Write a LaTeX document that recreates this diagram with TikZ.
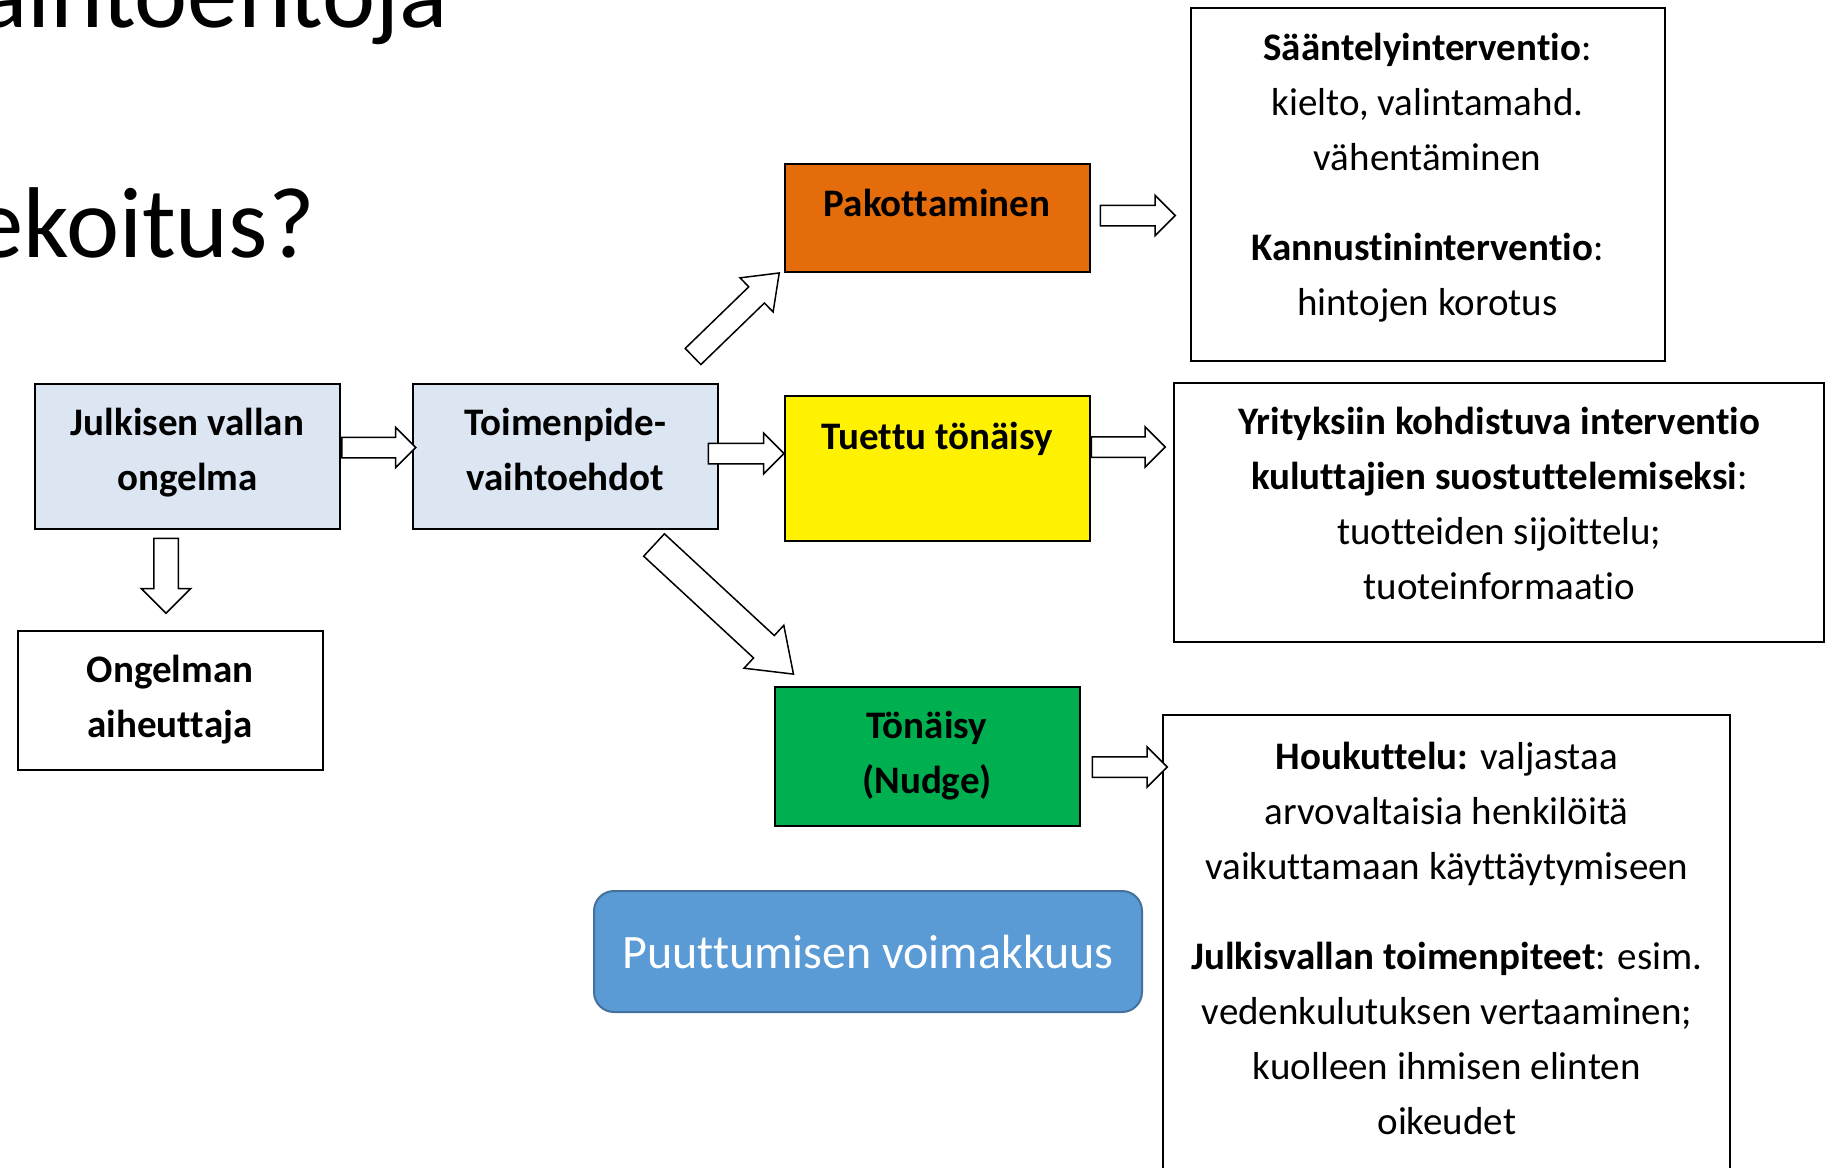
\documentclass[tikz,border=0pt]{standalone}
\usepackage{fontspec}
\setmainfont{Carlito}[Ligatures=NoCommon]
\usetikzlibrary{positioning, calc, shapes.arrows}
\definecolor{paleblue}{HTML}{DCE6F2}
\definecolor{pakorange}{HTML}{E46C0A}
\definecolor{nudgegreen}{HTML}{00B050}
\definecolor{strengthblue}{HTML}{5B9BD5}
\definecolor{strengthedge}{HTML}{41719C}
\newcommand{\boxfont}{\fontsize{19.5pt}{27.5pt}\selectfont}
\newcommand{\titlefont}{\fontsize{50.3pt}{60pt}\selectfont}
\tikzset{
	every node/.style={
		align=center,
	},
	box/.style={draw, line width=1pt, inner sep=0pt, minimum width=152.5pt, font=\boxfont\bfseries},
	infobox/.style={draw, line width=1pt, inner sep=0pt, font=\boxfont},
	fatarrow/.style={single arrow, draw, fill=white, line width=0.75pt, inner xsep=0pt, inner ysep=4.75pt, text height=0pt, text depth=0pt, single arrow head extend=5pt, single arrow tip angle=90},
}

\begin{document}
\begin{tikzpicture}[x=0.5pt, y=-0.5pt]
    \useasboundingbox (0,0) rectangle (1834,1167);
    \clip (0,0) rectangle (1834,1167);
    \fill[white] (0,0) rectangle (1834,1167);

    % slide heading, cut by the page edge
    \node[font=\titlefont, inner sep=0pt, anchor=base east] (heading) at (448.5,27) {aihtoehtoja};
    \node[font=\titlefont, inner sep=0pt, anchor=base east] (question) at (315,257) {ekoitus?};

    \node[box, fill=paleblue, minimum height=72.5pt] (julkisen) at (187.5,456) {Julkisen vallan\\ongelma\\[-20.5pt]\mbox{}};
    \node[box, fill=paleblue, minimum height=72.5pt, right=35.5pt of julkisen] (toimenpide) {Toimenpide-\\vaihtoehdot\\[-21.1pt]\mbox{}};
    \node[box, fill=white, minimum height=69.5pt, below=50pt of julkisen, xshift=-8.75pt] (ongelman) {Ongelman\\aiheuttaja};
    \node[box, fill=yellow, minimum height=72.5pt, text height=14pt, text depth=33pt, right=32.25pt of toimenpide, yshift=-6pt] (tuettu) {Tuettu tönäisy};
    \node[box, fill=pakorange, minimum height=54pt, text height=14pt, text depth=14.7pt, above=61pt of tuettu] (pakottaminen) {Pakottaminen};
    \node[box, fill=nudgegreen, minimum height=69.5pt, below=72pt of tuettu, xshift=-5pt] (tonaisy) {Tönäisy\\(Nudge)};
    \node[draw=strengthedge, fill=strengthblue, rounded corners=10pt, line width=1pt, text=white, font=\fontsize{24pt}{28pt}\selectfont, minimum width=274pt, minimum height=60.5pt, below=31.75pt of tonaisy, xshift=-29.5pt] (strength) {Puuttumisen voimakkuus};

    \node[infobox, minimum width=237pt, minimum height=176.5pt, right=49.5pt of pakottaminen, yshift=16.6pt] (saantely) {\textbf{Sääntelyinterventio}:\\kielto, valintamahd.\\vähentäminen\\[17.5pt]\textbf{Kannustininterventio}:\\hintojen korotus\\[-17.7pt]\mbox{}};
    \node[infobox, minimum width=325pt, minimum height=129.5pt, right=41.4pt of tuettu, yshift=-22.25pt] (yritys) {\textbf{Yrityksiin kohdistuva interventio}\\\textbf{kuluttajien suostuttelemiseksi}:\\tuotteiden sijoittelu;\\tuoteinformaatio\\[-18.1pt]\mbox{}};
    \node[infobox, minimum width=283.5pt, minimum height=229.5pt, right=40.9pt of tonaisy, yshift=-94.4pt] (houkuttelu) {\textbf{Houkuttelu:} valjastaa\\arvovaltaisia henkilöitä\\vaikuttamaan käyttäytymiseen\\[17.5pt]\textbf{Julkisvallan toimenpiteet}: esim.\\vedenkulutuksen vertaaminen;\\kuolleen ihmisen elinten\\oikeudet\\[-21.2pt]\mbox{}};

    % block arrows
    \node[fatarrow, minimum height=37pt, anchor=tail] (a1) at ([yshift=4.25pt]julkisen.east) {};
    \node[fatarrow, minimum height=37.75pt, anchor=tip] (a2) at ([xshift=0.75pt, yshift=7.25pt]tuettu.west) {};
    \node[fatarrow, minimum height=37.5pt, anchor=tail] (a3) at ([xshift=4.5pt, yshift=1pt]pakottaminen.east) {};
    \node[fatarrow, minimum height=37pt, anchor=tail] (a4) at ([yshift=10.5pt]tuettu.east) {};
    \node[fatarrow, minimum height=37.5pt, anchor=tail] (a5) at ([xshift=5.5pt, yshift=-5.5pt]tonaisy.east) {};
    \node[fatarrow, minimum height=37.5pt, inner ysep=5.75pt, single arrow head extend=6.25pt, anchor=tail, rotate=-90] (a6) at ([xshift=-10.75pt, yshift=-4pt]julkisen.south) {};
    \node[fatarrow, minimum height=60pt, inner ysep=5.25pt, single arrow head extend=6.25pt, single arrow tip angle=74, anchor=tail, rotate=44.1] (a7) at ([xshift=-13.25pt, yshift=12.75pt]toimenpide.north east) {};
    \node[fatarrow, minimum height=95pt, inner ysep=7.25pt, single arrow head extend=7pt, single arrow tip angle=72, anchor=tail, rotate=-42.8] (a8) at ([xshift=-32.75pt, yshift=-7.5pt]toimenpide.south east) {};
\end{tikzpicture}
\end{document}
